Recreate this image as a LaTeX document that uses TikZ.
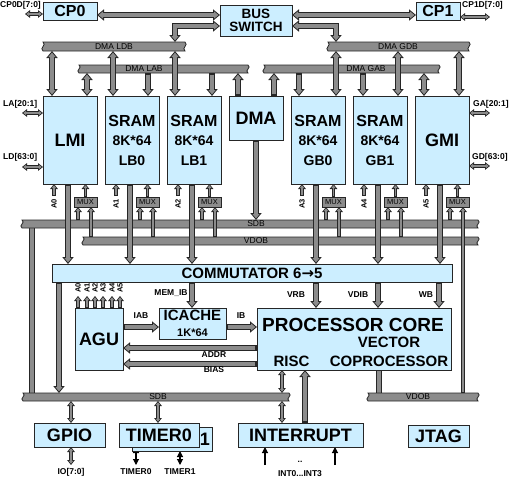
\documentclass[tikz,border=0pt]{standalone}
\usepackage{fontspec}
\setmainfont{Liberation Sans}
\newfontfamily\arrowfont{DejaVu Sans}
\usetikzlibrary{arrows.meta}

\definecolor{boxblue}{HTML}{CCEEFF}
\definecolor{pipegray}{HTML}{8C8C8C}

\tikzset{
  blk/.style={draw=black!85, fill=boxblue, line width=0.8pt, inner sep=0pt,
      align=center, font=\bfseries\fontsize{18}{18}\selectfont},
  mem/.style={blk, minimum width=54pt, minimum height=88pt},
  lowbox/.style={blk, minimum height=24pt},
  muxbox/.style={draw=black!85, fill=pipegray, line width=0.6pt, inner sep=0pt,
      minimum width=23pt, minimum height=10pt, font=\fontsize{7.5}{8}\selectfont},
  buspath/.style={draw=black!85, fill=pipegray, line width=0.8pt},
  buslbl/.style={inner sep=0pt, font=\fontsize{8.5}{9}\selectfont},
  lbl/.style={inner sep=0pt, font=\bfseries\fontsize{8.5}{9}\selectfont},
  addr/.style={inner sep=0pt, rotate=90, font=\bfseries\fontsize{7.5}{8}\selectfont},
  tubeout/.style={line width=6pt, draw=black!85, >={Triangle[length=7pt,width=11pt]}},
  tubein/.style={line width=4pt, draw=pipegray, shorten >=1.6pt, shorten <=1.6pt,
      >={Triangle[length=4.4pt,width=6.9pt]}},
  thinout/.style={line width=3.6pt, draw=black!85, >={Triangle[length=5pt,width=7.5pt]}},
  thinin/.style={line width=1.8pt, draw=pipegray, shorten >=1.4pt, shorten <=1.4pt,
      >={Triangle[length=2.75pt,width=4.1pt]}},
  wire/.style={line width=1.1pt, >={Triangle[length=6pt,width=6pt]}},
}

% bus bar: name, x1, x2, ytop, ybottom, label x, label
\newcommand\busbar[7]{%
  \pgfmathsetmacro\ya{#4+(#5-#4)/3}%
  \pgfmathsetmacro\yb{#4+2*(#5-#4)/3}%
  \draw[buspath] (#2,#4) -- (#3,#4) .. controls ({#3+4},\ya) and ({#3-4},\yb) .. (#3,#5)
    -- (#2,#5) .. controls ({#2-4},\yb) and ({#2+4},\ya) .. (#2,#4) -- cycle;
  \node[buslbl] (#1) at (#6,{(#4+#5)/2}) {#7};}
\newcommand\tube[2][-]{\draw[tubeout,#1] #2; \draw[tubein,#1] #2;}
\newcommand\thintube[2][-]{\draw[thinout,#1] #2; \draw[thinin,#1] #2;}

\begin{document}
\begin{tikzpicture}[x=1pt,y=-1pt]
\useasboundingbox (0,0) rectangle (512,480);
% links running into the buses
\tube{(32,226) -- (32,395)}
\tube{(379,368) -- (379,395)}
% buses
\busbar{ldb}{43}{185}{42}{51}{114}{DMA LDB}
\busbar{lab}{79}{248}{65}{73}{144}{DMA LAB}
\busbar{gdb}{328}{469}{42}{51}{398}{DMA GDB}
\busbar{gab}{264}{439}{65}{73}{366}{DMA GAB}
\busbar{sdb}{22}{478}{220}{228}{256}{SDB}
\busbar{vdob}{83}{478}{237}{245}{256}{VDOB}
\busbar{sdbl}{23}{289}{393}{401}{158}{SDB}
\busbar{vdobl}{368}{478}{393}{401}{418}{VDOB}

% bus switch
\tube[<->]{(97,15) -- (220,15)}
\tube[<->]{(292,15) -- (416,15)}
\tube[<->]{(220,26) -| (175,42)}
\tube[<->]{(292,26) -| (336,42)}
\thintube[<->]{(25,14) -- (43,14)}
\thintube[<->]{(460,17) -- (490,17)}
\node[lbl, anchor=west] (cp0d) at (0,5) {CP0D[7:0]};
\node[lbl, anchor=west] (cp1d) at (462,5) {CP1D[7:0]};

% DMA buses to the memories
\foreach \x in {52,113,175,336,398,459}{\tube[<->]{(\x,51) -- (\x,96)}}
\tube[<->]{(87,73) -- (87,96)}
\tube[<->]{(424,73) -- (424,96)}
\foreach \x in {148,212,299,363}{\tube[->]{(\x,73) -- (\x,96)}}
\foreach \x in {238,274}{\tube[->]{(\x,96) -- (\x,73)}}
\tube[->]{(256,140) -- (256,220)}

% external ports
\thintube[<->]{(22,113) -- (43,113)}
\thintube[<->]{(22,167) -- (43,167)}
\thintube[<->]{(469,113) -- (490,113)}
\thintube[<->]{(469,166) -- (490,166)}
\node[lbl, anchor=west] (la) at (3,104) {LA[20:1]};
\node[lbl, anchor=west] (ld) at (3,157) {LD[63:0]};
\node[lbl, anchor=west] (ga) at (473,104) {GA[20:1]};
\node[lbl, anchor=west] (gd) at (472,157) {GD[63:0]};

% address, mux and data links
\foreach \L/\i in {43/0,105/1,167/2,291/3,353/4,415/5}{
  \thintube[->]{({\L+11},196) -- ({\L+11},184)}
  \node[addr] (a\i) at ({\L+11},204) {A\i};
  \thintube[->]{({\L+42.5},197) -- ({\L+42.5},184)}
  \thintube[->]{({\L+35},220) -- ({\L+35},207)}
  \tube[->]{({\L+25},184) -- ({\L+25},264)}
}
\foreach \L in {43,105,167,291,353}{\thintube[->]{({\L+48},237) -- ({\L+48},207)}}
\thintube[->]{(463,393) -- (463,207)}
\foreach \L [count=\i from 0] in {43,105,167,291,353,415}{
  \node[muxbox] (mux\i) at ({\L+42.5},202) {MUX};}

% commutator outputs
\tube[->]{(59,282) -- (59,393)}
\tube[->]{(192,282) -- (192,308)}
\foreach \x in {316,378,439}{\tube[->]{(\x,282) -- (\x,308)}}
\node[lbl] (memib) at (171,293) {MEM\_IB};
\node[lbl] (vrb) at (296,295) {VRB};
\node[lbl] (vdib) at (358,295) {VDIB};
\node[lbl] (wb) at (426,295) {WB};

% AGU
\foreach \x [count=\i from 0] in {78,87,95,103,112,120}{
  \thintube[->]{(\x,308) -- (\x,296)}
  \node[addr] (g\i) at (\x,288) {A\i};}
\tube[->]{(123,327) -- (159,327)}
\tube[->]{(226,327) -- (257,327)}
\tube[->]{(257,348) -- (123,348)}
\tube[->]{(257,364) -- (123,364)}
\node[lbl] (iab) at (141,316) {IAB};
\node[lbl] (ib) at (241,316) {IB};
\node[lbl] (addr) at (214,355) {ADDR};
\node[lbl] (bias) at (214,370) {BIAS};

% peripherals
\thintube[<->]{(282,370) -- (282,393)}
\thintube[<->]{(282,401) -- (282,423)}
\tube[->]{(305,423) -- (305,370)}
\thintube[<->]{(71,401) -- (71,423)}
\thintube[<->]{(71,447) -- (71,465)}
\thintube[<->]{(158,401) -- (158,423)}
\draw[wire,<->] (136,447) -- (136,465);
\draw[wire,<->] (180,451) -- (180,465);
\draw[wire,->] (265,465) -- (265,447);
\draw[wire,->] (335,465) -- (335,447);
\node[lbl] (io) at (71,472) {IO[7:0]};
\node[lbl] (t0) at (136,472) {TIMER0};
\node[lbl] (t1) at (180,472) {TIMER1};
\node[lbl] (dots) at (300,462) {..};
\node[lbl] (ints) at (300,474) {INT0...INT3};

% blocks
\node[blk, minimum width=54pt, minimum height=18pt, font=\bfseries\fontsize{16}{16}\selectfont] (cp0) at (70,11) {CP0};
\node[blk, minimum width=72pt, minimum height=31pt, font=\bfseries\fontsize{13.5}{13}\selectfont] (bsw) at (256,20.5) {BUS\\SWITCH};
\node[blk, minimum width=44pt, minimum height=18pt, font=\bfseries\fontsize{16}{16}\selectfont] (cp1) at (438,11) {CP1};
\node[mem] (lmi) at (70,140) {LMI};
\foreach \n/\x/\t in {lb0/132/LB0,lb1/194/LB1,gb0/318/GB0,gb1/380/GB1}{
  \node[mem, font=\bfseries\fontsize{14}{19.5}\selectfont] (\n) at (\x,140)
    {{\fontsize{16}{19.5}\selectfont SRAM}\\8K*64\\\t};}
\node[blk, minimum width=54pt, minimum height=44pt] (dma) at (256,118) {DMA};
\node[mem] (gmi) at (442,140) {GMI};
\node[blk, minimum width=400pt, minimum height=18pt, font=\bfseries\fontsize{15}{15}\selectfont] (comm) at (252,273)
  {COMMUTATOR 6{\arrowfont\bfseries →}5};
\node[blk, minimum width=48pt, minimum height=62pt] (agu) at (99,339) {AGU};
\node[blk, minimum width=67pt, minimum height=31pt, font=\bfseries\fontsize{11}{15.5}\selectfont] (icache) at (192.5,323.5)
  {{\fontsize{15}{15.5}\selectfont ICACHE}\\1K*64};
\node[blk, minimum width=194pt, minimum height=62pt] (core) at (354,339) {};
\node[inner sep=0pt, font=\bfseries\fontsize{19}{19}\selectfont] (pc) at (353,325) {PROCESSOR CORE};
\node[inner sep=0pt, font=\bfseries\fontsize{15}{15}\selectfont] (vec) at (389,342.5) {VECTOR};
\node[inner sep=0pt, font=\bfseries\fontsize{15}{15}\selectfont] (cop) at (389,361.5) {COPROCESSOR};
\node[inner sep=0pt, font=\bfseries\fontsize{15}{15}\selectfont] (risc) at (291.5,361.5) {RISC};
\node[lowbox, minimum width=71pt] (gpio) at (69.5,435) {GPIO};
\node[lowbox, minimum width=80pt] (timer1) at (172.5,439) {};
\node[inner sep=0pt, anchor=east, font=\bfseries\fontsize{18}{18}\selectfont] (t1txt) at (210,439) {1};
\node[lowbox, minimum width=80pt] (timer0) at (159,435) {TIMER0};
\node[lowbox, minimum width=125pt] (intr) at (300.5,435) {INTERRUPT};
\node[blk, minimum width=61pt, minimum height=22pt] (jtag) at (438.5,436) {JTAG};
\end{tikzpicture}
\end{document}
